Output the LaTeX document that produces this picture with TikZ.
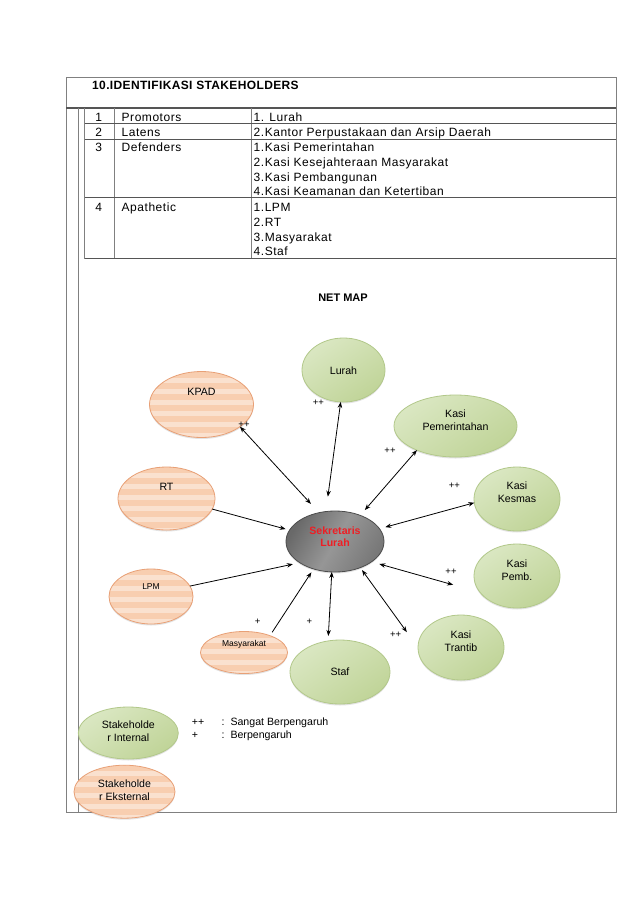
\documentclass[tikz,border=0pt]{standalone}
\usepackage{fontspec}
\setmainfont{Liberation Sans}
\newfontfamily\cellfont[LetterSpace=4.5]{Liberation Sans}
\newfontfamily\titlefont[LetterSpace=3]{Liberation Sans}
\usetikzlibrary{arrows.meta, shapes.geometric, shadows}
\definecolor{frameGray}{RGB}{128,128,128}
\definecolor{ruleGray}{RGB}{85,85,85}
\definecolor{peach}{RGB}{248,206,176}
\definecolor{peachEdge}{RGB}{232,160,118}
\definecolor{leafLight}{RGB}{218,231,194}
\definecolor{leafDark}{RGB}{192,212,152}
\definecolor{leafEdge}{RGB}{178,200,138}
\definecolor{coreDark}{RGB}{105,105,105}
\definecolor{coreMid}{RGB}{150,150,150}
\definecolor{coreLight}{RGB}{120,120,120}
\definecolor{coreRed}{RGB}{238,30,36}

\begin{document}
\begin{tikzpicture}[
    x=1pt, y=-1pt,
    txt/.style={font=\fontsize{10.6}{12.6}\selectfont, align=center, inner sep=0pt},
    small/.style={font=\fontsize{8.5}{10}\selectfont, inner sep=0pt},
    cell/.style={font=\cellfont\fontsize{12}{14.5}\selectfont, anchor=base west, inner sep=0pt},
    signlabel/.style={font=\fontsize{9.5}{10}\selectfont, inner sep=0pt},
    bubble/.style={ellipse, inner sep=0pt, outer sep=0pt, line width=0.8pt,
                   drop shadow={shadow xshift=0pt, shadow yshift=-1.5pt, opacity=0.22}},
    internal/.style={bubble, draw=leafEdge, top color=leafLight,
                     bottom color=leafDark, shading angle=35},
    external/.style={bubble, draw=peachEdge, fill=peach, path picture={
        \foreach \k in {1,...,9}
          \fill[white, opacity=0.4]
            ([yshift=-\k*11pt+5pt]path picture bounding box.north west)
            rectangle ++(220pt,-5pt);
      }},
    core/.style={bubble, draw=black!70, left color=coreDark, right color=coreLight,
                 middle color=coreMid, shading angle=60},
    link/.style={{Stealth[length=6pt,width=4.5pt]}-{Stealth[length=6pt,width=4.5pt]},
                 line width=0.8pt},
    oneway/.style={-{Stealth[length=6pt,width=4.5pt]}, line width=0.8pt},
  ]
  \useasboundingbox[fill=white] (0,0) rectangle (638,903);

  % frame and table rules
  \draw[frameGray, line width=0.9pt] (66,77) -- (616,77) -- (616,812) -- (66,812) -- cycle;
  \draw[ruleGray, line width=1.4pt] (66,108) -- (616,108);
  \draw[frameGray, line width=0.9pt] (78,108) -- (78,812);
  \draw[frameGray, line width=0.8pt] (84.5,108) -- (84.5,258.5)
    (114.5,108) -- (114.5,258.5) (251,108) -- (251,258.5);
  \foreach \y in {123,139,197,258.5}
    \draw[ruleGray, line width=0.9pt] (84.5,\y) -- (616,\y);

  \node[cell, font=\titlefont\fontsize{12}{14.5}\selectfont\bfseries] (title) at (92,89.3)
    {10.IDENTIFIKASI STAKEHOLDERS};

  % table cells
  \foreach \n/\y in {1/121.6, 2/136.3, 3/151.6, 4/211}
    \node[cell, anchor=base] (no\n) at (98.7,\y) {\n};
  \node[cell] (cat1) at (121.5,121.6) {Promotors};
  \node[cell] (cat2) at (121.5,136.3) {Latens};
  \node[cell] (cat3) at (121.5,151.6) {Defenders};
  \node[cell] (cat4) at (121.5,211) {Apathetic};
  \foreach \y/\t [count=\i] in {121.6/{1. Lurah},
      136.3/{2.Kantor Perpustakaan dan Arsip Daerah},
      151.6/{1.Kasi Pemerintahan}, 166.6/{2.Kasi Kesejahteraan Masyarakat},
      181/{3.Kasi Pembangunan}, 195.6/{4.Kasi Keamanan dan Ketertiban},
      211/{1.LPM}, 226.3/{2.RT}, 241/{3.Masyarakat}, 255.6/{4.Staf}}
    \node[cell] (item\i) at (253.5,\y) {\t};

  \node[font=\fontsize{11}{13}\selectfont\bfseries] (netmap) at (343,298) {NET MAP};

  % net map
  \node[core, minimum width=98, minimum height=61,
        label={[txt, yshift=5pt, text=coreRed, font=\fontsize{10.6}{12}\selectfont\bfseries]center:Sekretaris\\Lurah}]
        (sek) at (335,541.5) {};
  \node[internal, minimum width=83, minimum height=64,
        label={[txt, yshift=-1pt]center:Lurah}] (lurah) at (343.5,370) {};
  \node[internal, minimum width=123, minimum height=62,
        label={[txt, yshift=5.7pt]center:Kasi\\Pemerintahan}] (kasipem) at (455.5,426) {};
  \node[internal, minimum width=86, minimum height=64,
        label={[txt, yshift=7pt]center:Kasi\\Kesmas}] (kesmas) at (517,499) {};
  \node[internal, minimum width=86, minimum height=64,
        label={[txt, yshift=6pt]center:Kasi\\Pemb.}] (kasipemb) at (517,576) {};
  \node[internal, minimum width=86, minimum height=65,
        label={[txt, yshift=6.5pt]center:Kasi\\Trantib}] (trantib) at (461,647.5) {};
  \node[internal, minimum width=100, minimum height=64,
        label={[txt]center:Staf}] (staf) at (340,672) {};
  \node[external, minimum width=104, minimum height=66,
        label={[txt, yshift=12.5pt]center:KPAD}] (kpad) at (201.5,404.5) {};
  \node[external, minimum width=97, minimum height=63,
        label={[txt, yshift=11.5pt]center:RT}] (rt) at (166.5,498.5) {};
  \node[external, minimum width=84, minimum height=55,
        label={[small, yshift=9.5pt]center:LPM}] (lpm) at (151,596.5) {};
  \node[external, minimum width=87, minimum height=42,
        label={[small, yshift=8.5pt]center:Masyarakat}] (masy) at (244,652.5) {};

  \draw[link, shorten >=12pt] (kpad.-30) -- (sek.119);
  \draw[link, shorten >=15pt] (lurah.-95) -- (sek.107);
  \draw[link, shorten >=7pt] (kasipem.212) -- (sek.46);
  \draw[link, shorten >=6pt] (kesmas.185) -- (sek.16);
  \draw[link, shorten <=28pt, shorten >=8pt] (kasipemb.204) -- (sek.-29);
  \draw[link, shorten <=19pt, shorten >=3pt] (trantib.180) -- (sek.-46);
  \draw[link, shorten >=5pt] (sek.-96) -- (staf.111);
  \draw[oneway, shorten <=4pt, shorten >=4pt] (masy.33) -- (sek.232);
  \draw[oneway, shorten >=7pt] (lpm.15) -- (sek.211);
  \draw[oneway, shorten >=4pt] (rt.-13) -- (sek.166);

  \node[signlabel] (pLurah) at (318.3,402.7) {++};
  \node[signlabel] (pKpad) at (244,424.3) {++};
  \node[signlabel] (pPem) at (390,450.7) {++};
  \node[signlabel] (pKesmas) at (454.3,486) {++};
  \node[signlabel] (pPemb) at (451,572) {++};
  \node[signlabel] (pTrantib) at (395.7,635) {++};
  \node[signlabel] (pStaf) at (309.3,622) {+};
  \node[signlabel] (pMasy) at (257.7,622) {+};

  % legend
  \node[internal, minimum width=100, minimum height=52,
        label={[txt, yshift=2pt]center:Stakeholde\\r Internal}] (keyIn) at (128.3,733) {};
  \node[external, minimum width=101, minimum height=53,
        label={[txt, yshift=1.4pt]center:Stakeholde\\r Eksternal}] (keyEx) at (124.5,791.7) {};
  \node[txt, anchor=west] (keyPP) at (191.7,722.3) {++};
  \node[txt, anchor=west] (keyP) at (191.7,735.7) {+};
  \node[txt, anchor=west] (keyPPt) at (221.5,722.3) {:\ \ Sangat Berpengaruh};
  \node[txt, anchor=west] (keyPt) at (221.5,735.7) {:\ \ Berpengaruh};
\end{tikzpicture}
\end{document}
